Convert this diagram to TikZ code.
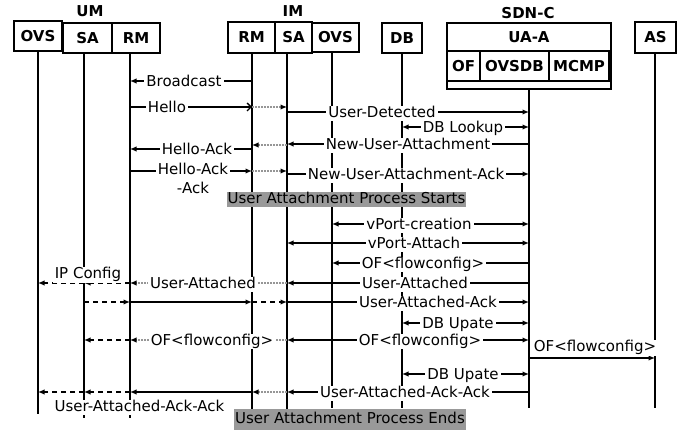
\documentclass[tikz,border=0pt]{standalone}
\usepackage{fontspec}
\setmainfont{DejaVu Sans}
\usetikzlibrary{arrows.meta}
\definecolor{boxgray}{RGB}{153,153,153}
\definecolor{dotgray}{RGB}{150,150,150}
\begin{document}
\begin{tikzpicture}[x=1pt,y=-1pt,
  every node/.style={font=\fontsize{15}{19}\selectfont},
  hbox/.style={draw, line width=2.8pt, inner sep=0pt, font=\fontsize{15}{19}\selectfont\bfseries},
  hdr/.style={font=\fontsize{15}{19}\selectfont\bfseries, inner sep=0pt},
  life/.style={line width=1.3pt},
  msg/.style={line width=1.3pt, -{Latex[length=6.5pt,width=5.5pt]}},
  omsg/.style={line width=1.3pt, -{Straight Barb[length=4pt,width=8pt]}},
  dmsg/.style={line width=1.3pt, {Latex[length=6.5pt,width=5.5pt]}-{Latex[length=6.5pt,width=5.5pt]}},
  gmsg/.style={draw=dotgray, line width=1.2pt, dash pattern=on 2pt off 1pt, -{Latex[length=6.5pt,width=5.5pt,color=black]}},
  kmsg/.style={line width=1.3pt, dash pattern=on 5pt off 4pt, -{Latex[length=6.5pt,width=5.5pt]}},
  lbl/.style={fill=white, inner xsep=2pt, inner ysep=0.5pt, text height=11pt, text depth=3.5pt, anchor=base, yshift=-5.5pt},
  lbltwo/.style={fill=white, inner xsep=2pt, inner ysep=1pt, align=center, anchor=north},
  band/.style={fill=boxgray, inner xsep=1pt, inner ysep=0pt, text height=11pt, text depth=3.5pt}
]
\useasboundingbox (0,0) rectangle (686,430);

% header boxes
\node[hbox, minimum width=48pt, minimum height=30pt] (umovs) at (38,36) {OVS};
\node[hbox, minimum width=49pt, minimum height=30pt] (umsa) at (87.5,38) {SA};
\node[hbox, minimum width=48pt, minimum height=30pt] (umrm) at (136,38) {RM};
\node[hdr] (um) at (90,11) {UM};
\node[hbox, minimum width=47pt, minimum height=31pt] (imrm) at (251.5,37.5) {RM};
\node[hbox, minimum width=37pt, minimum height=31pt] (imsa) at (293.5,37.5) {SA};
\node[hbox, minimum width=47pt, minimum height=29pt] (imovs) at (335.5,37.5) {OVS};
\node[hdr] (im) at (293,11) {IM};
\node[hbox, minimum width=40pt, minimum height=30pt] (db) at (402,38) {DB};
\node[hbox, minimum width=41pt, minimum height=31pt] (as) at (655.5,37.5) {AS};
\node[hbox, minimum width=164pt, minimum height=66pt] (sdn) at (529,56) {};
\node[hbox, minimum width=164pt, minimum height=28pt] (uaa) at (529,37) {UA-A};
\node[hbox, minimum width=33pt, minimum height=30pt] (of) at (463.5,66) {OF};
\node[hbox, minimum width=69pt, minimum height=30pt] (ovsdb) at (514.5,66) {OVSDB};
\node[hbox, minimum width=60pt, minimum height=30pt] (mcmp) at (579,66) {MCMP};
\node[hdr] (sdnc) at (528,13) {SDN-C};

% lifeline tops
\coordinate (a1) at (38,52);
\coordinate (a2) at (84,54);
\coordinate (a3) at (130,54);
\coordinate (b1) at (252,54);
\coordinate (b2) at (287,54);
\coordinate (b3) at (332,52);
\coordinate (d) at (402,54);
\coordinate (s) at (529,89);
\coordinate (t) at (655,54);

\draw[life] (a1) -- (a1 |- 0,414);
\draw[life] (a2) -- (a2 |- 0,418);
\draw[life] (a3) -- (a3 |- 0,418);
\draw[life] (b1) -- (b1 |- 0,413);
\draw[life] (b2) -- (b2 |- 0,413);
\draw[life] (b3) -- (b3 |- 0,408);
\draw[life] (d) -- (d |- 0,408);
\draw[life] (s) -- (s |- 0,408);
\draw[life] (t) -- (t |- 0,408);

% Broadcast
\draw[msg] (b1 |- 0,81) -- (a3 |- 0,81);
\node[lbl] (l1) at (184,81) {Broadcast};
% Hello
\draw[omsg] (a3 |- 0,107) -- (b1 |- 0,107);
\draw[gmsg] (b1 |- 0,107) -- (b2 |- 0,107);
\node[lbl] (l2) at (167,107) {Hello};
% User-Detected
\draw[msg] (b2 |- 0,112) -- (s |- 0,112);
\node[lbl] (l3) at (382,112) {User-Detected};
% DB Lookup
\draw[dmsg] (d |- 0,127) -- (s |- 0,127);
\node[lbl] (l4) at (463,127) {DB Lookup};
% New-User-Attachment
\draw[msg] (s |- 0,144) -- (b2 |- 0,144);
\draw[gmsg] (b2 |- 0,145) -- (b1 |- 0,145);
\node[lbl] (l5) at (408,144) {New-User-Attachment};
% Hello-Ack
\draw[msg] (b1 |- 0,149) -- (a3 |- 0,149);
\node[lbl] (l6) at (197,149) {Hello-Ack};
% Hello-Ack-Ack
\draw[msg] (a3 |- 0,171) -- (b1 |- 0,171);
\draw[gmsg] (b1 |- 0,171) -- (b2 |- 0,171);
\node[lbltwo] (l7) at (193,161.5) {Hello-Ack\\-Ack};
% New-User-Attachment-Ack
\draw[msg] (b2 |- 0,174) -- (s |- 0,174);
\node[lbl] (l8) at (406,174) {New-User-Attachment-Ack};

\node[band] (start) at (346.5,199.5) {User Attachment Process Starts};

% vPort-creation
\draw[dmsg] (b3 |- 0,224) -- (s |- 0,224);
\node[lbl] (l9) at (419,224) {vPort-creation};
% vPort-Attach
\draw[dmsg] (b2 |- 0,243) -- (s |- 0,243);
\node[lbl] (l10) at (414,243) {vPort-Attach};
% OF<flowconfig>
\draw[msg] (s |- 0,263) -- (b3 |- 0,263);
\node[lbl] (l11) at (423,263) {OF<flowconfig>};
% User-Attached
\draw[msg] (s |- 0,283) -- (b2 |- 0,283);
\node[lbl] (l12) at (415,283) {User-Attached};
\draw[gmsg] (b2 |- 0,283) -- (a3 |- 0,283);
\node[lbl] (l13) at (203,283) {User-Attached};
\draw[kmsg] (a3 |- 0,283) -- (a2 |- 0,283);
\draw[kmsg] (a2 |- 0,283) -- (a1 |- 0,283);
\node[lbl] (l14) at (88,273.5) {IP Config};
% User-Attached-Ack
\draw[kmsg] (a2 |- 0,302) -- (a3 |- 0,302);
\draw[msg] (a3 |- 0,302) -- (b1 |- 0,302);
\draw[kmsg] (b1 |- 0,302) -- (b2 |- 0,302);
\draw[msg] (b2 |- 0,302) -- (s |- 0,302);
\node[lbl] (l15) at (428,302) {User-Attached-Ack};
% DB Upate
\draw[dmsg] (d |- 0,323) -- (s |- 0,323);
\node[lbl] (l16) at (458,323) {DB Upate};
% OF<flowconfig> row
\draw[dmsg] (b2 |- 0,340) -- (s |- 0,340);
\node[lbl] (l17) at (420,340) {OF<flowconfig>};
\draw[gmsg] (b2 |- 0,340) -- (a3 |- 0,340);
\node[lbl] (l18) at (212,340) {OF<flowconfig>};
\draw[kmsg] (a3 |- 0,340) -- (a2 |- 0,340);
% to AS
\draw[msg] (s |- 0,358) -- (t |- 0,358);
\node[lbl] (l19) at (595,346.5) {OF<flowconfig>};
% DB Upate
\draw[dmsg] (d |- 0,374) -- (s |- 0,374);
\node[lbl] (l20) at (463,374) {DB Upate};
% User-Attached-Ack-Ack
\draw[msg] (s |- 0,392) -- (b2 |- 0,392);
\node[lbl] (l21) at (405,392) {User-Attached-Ack-Ack};
\draw[gmsg] (b2 |- 0,392) -- (b1 |- 0,392);
\draw[msg] (b1 |- 0,392) -- (a3 |- 0,392);
\draw[kmsg] (a3 |- 0,392) -- (a2 |- 0,392);
\draw[kmsg] (a2 |- 0,392) -- (a1 |- 0,392);
\node[lbl] (l22) at (139.5,406) {User-Attached-Ack-Ack};

\node[band, minimum height=21pt] (ends) at (350,419.5) {User Attachment Process Ends};
\end{tikzpicture}
\end{document}
